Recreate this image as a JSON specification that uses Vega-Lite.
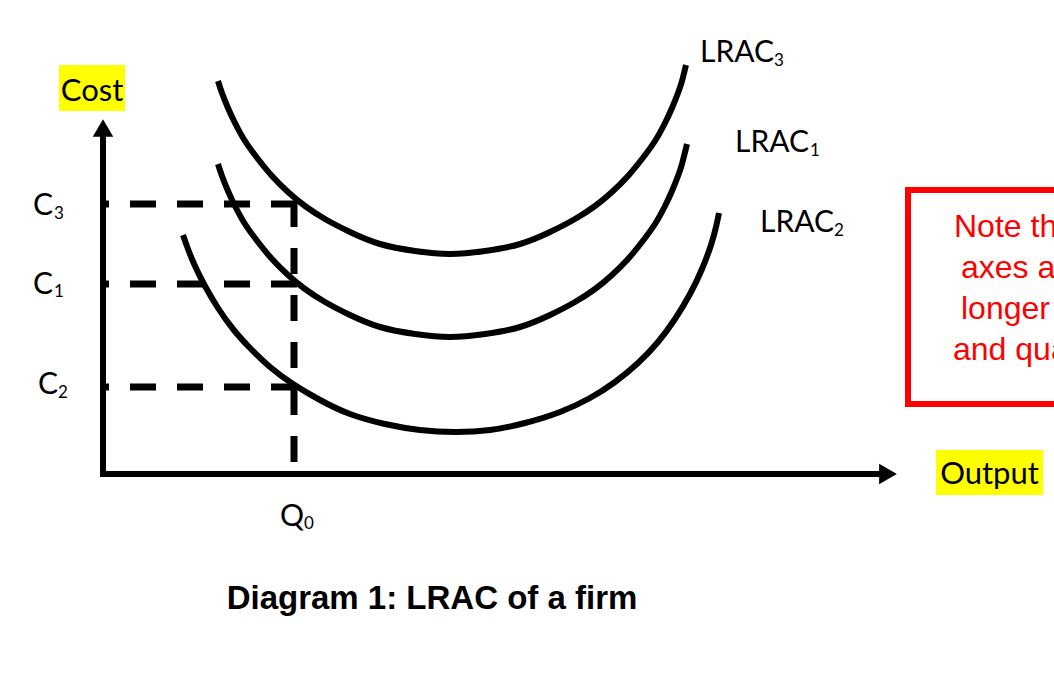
{
  "$schema": "https://vega.github.io/schema/vega-lite/v6.json",
  "width": 1054,
  "height": 694,
  "autosize": {"type": "fit", "contains": "padding"},
  "padding": 0,
  "background": "white",
  "config": {"view": {"stroke": null}},
  "datasets": {
    "boxes": [
      {"name": "Cost", "x": 59, "x2": 125, "y": 65, "y2": 111},
      {"name": "Output", "x": 936, "x2": 1043, "y": 450, "y2": 495}
    ],
    "note": [
      {"x": 908, "x2": 1090, "y": 190, "y2": 404}
    ],
    "axes": [
      {"x": 103, "x2": 103, "y": 477, "y2": 130},
      {"x": 100, "x2": 884, "y": 474, "y2": 474}
    ],
    "arrows": [
      {"dir": "up", "x": 103, "y": 128},
      {"dir": "right", "x": 888, "y": 474}
    ],
    "dashes": [
      {"x": 297, "x2": 101, "y": 204, "y2": 204},
      {"x": 297, "x2": 101, "y": 284, "y2": 284},
      {"x": 297, "x2": 101, "y": 387, "y2": 387},
      {"x": 294, "x2": 294, "y": 201, "y2": 467}
    ],
    "curves": [
      {"curve": "LRAC3", "x": 218, "y": 81},
      {"curve": "LRAC3", "x": 222, "y": 93},
      {"curve": "LRAC3", "x": 228, "y": 108},
      {"curve": "LRAC3", "x": 235, "y": 123},
      {"curve": "LRAC3", "x": 245, "y": 141},
      {"curve": "LRAC3", "x": 258, "y": 159},
      {"curve": "LRAC3", "x": 272, "y": 176},
      {"curve": "LRAC3", "x": 288, "y": 192},
      {"curve": "LRAC3", "x": 305, "y": 206},
      {"curve": "LRAC3", "x": 325, "y": 219},
      {"curve": "LRAC3", "x": 350, "y": 232},
      {"curve": "LRAC3", "x": 380, "y": 244},
      {"curve": "LRAC3", "x": 415, "y": 251},
      {"curve": "LRAC3", "x": 450, "y": 254},
      {"curve": "LRAC3", "x": 485, "y": 251},
      {"curve": "LRAC3", "x": 520, "y": 244},
      {"curve": "LRAC3", "x": 550, "y": 232},
      {"curve": "LRAC3", "x": 575, "y": 219},
      {"curve": "LRAC3", "x": 595, "y": 206},
      {"curve": "LRAC3", "x": 612, "y": 192},
      {"curve": "LRAC3", "x": 628, "y": 176},
      {"curve": "LRAC3", "x": 642, "y": 159},
      {"curve": "LRAC3", "x": 655, "y": 141},
      {"curve": "LRAC3", "x": 665, "y": 123},
      {"curve": "LRAC3", "x": 672, "y": 108},
      {"curve": "LRAC3", "x": 678, "y": 93},
      {"curve": "LRAC3", "x": 682, "y": 81},
      {"curve": "LRAC3", "x": 686, "y": 65},
      {"curve": "LRAC1", "x": 218, "y": 164},
      {"curve": "LRAC1", "x": 222, "y": 176},
      {"curve": "LRAC1", "x": 228, "y": 191},
      {"curve": "LRAC1", "x": 235, "y": 206},
      {"curve": "LRAC1", "x": 245, "y": 224},
      {"curve": "LRAC1", "x": 258, "y": 242},
      {"curve": "LRAC1", "x": 272, "y": 259},
      {"curve": "LRAC1", "x": 288, "y": 275},
      {"curve": "LRAC1", "x": 305, "y": 289},
      {"curve": "LRAC1", "x": 325, "y": 302},
      {"curve": "LRAC1", "x": 350, "y": 315},
      {"curve": "LRAC1", "x": 380, "y": 327},
      {"curve": "LRAC1", "x": 415, "y": 334},
      {"curve": "LRAC1", "x": 450, "y": 337},
      {"curve": "LRAC1", "x": 485, "y": 334},
      {"curve": "LRAC1", "x": 520, "y": 327},
      {"curve": "LRAC1", "x": 550, "y": 315},
      {"curve": "LRAC1", "x": 575, "y": 302},
      {"curve": "LRAC1", "x": 595, "y": 289},
      {"curve": "LRAC1", "x": 612, "y": 275},
      {"curve": "LRAC1", "x": 628, "y": 259},
      {"curve": "LRAC1", "x": 642, "y": 242},
      {"curve": "LRAC1", "x": 655, "y": 224},
      {"curve": "LRAC1", "x": 665, "y": 206},
      {"curve": "LRAC1", "x": 672, "y": 191},
      {"curve": "LRAC1", "x": 678, "y": 176},
      {"curve": "LRAC1", "x": 682, "y": 164},
      {"curve": "LRAC1", "x": 687, "y": 144},
      {"curve": "LRAC2", "x": 183, "y": 235},
      {"curve": "LRAC2", "x": 188, "y": 249},
      {"curve": "LRAC2", "x": 195, "y": 266},
      {"curve": "LRAC2", "x": 205, "y": 286},
      {"curve": "LRAC2", "x": 218, "y": 308},
      {"curve": "LRAC2", "x": 233, "y": 329},
      {"curve": "LRAC2", "x": 250, "y": 348},
      {"curve": "LRAC2", "x": 270, "y": 367},
      {"curve": "LRAC2", "x": 293, "y": 384},
      {"curve": "LRAC2", "x": 320, "y": 400},
      {"curve": "LRAC2", "x": 350, "y": 414},
      {"curve": "LRAC2", "x": 385, "y": 424},
      {"curve": "LRAC2", "x": 420, "y": 430},
      {"curve": "LRAC2", "x": 455, "y": 432},
      {"curve": "LRAC2", "x": 490, "y": 430},
      {"curve": "LRAC2", "x": 525, "y": 423},
      {"curve": "LRAC2", "x": 560, "y": 412},
      {"curve": "LRAC2", "x": 590, "y": 398},
      {"curve": "LRAC2", "x": 615, "y": 382},
      {"curve": "LRAC2", "x": 638, "y": 363},
      {"curve": "LRAC2", "x": 658, "y": 342},
      {"curve": "LRAC2", "x": 675, "y": 319},
      {"curve": "LRAC2", "x": 690, "y": 294},
      {"curve": "LRAC2", "x": 702, "y": 269},
      {"curve": "LRAC2", "x": 711, "y": 245},
      {"curve": "LRAC2", "x": 716, "y": 227},
      {"curve": "LRAC2", "x": 719, "y": 213}
    ],
    "labels": [
      {"text": "C", "x": 33, "y": 215},
      {"text": "C", "x": 33, "y": 294},
      {"text": "C", "x": 38, "y": 394},
      {"text": "Q", "x": 280, "y": 526},
      {"text": "LRAC", "x": 700, "y": 62},
      {"text": "LRAC", "x": 735, "y": 152},
      {"text": "LRAC", "x": 760, "y": 232}
    ],
    "subs": [
      {"text": "3", "x": 54, "y": 219},
      {"text": "1", "x": 54, "y": 297},
      {"text": "2", "x": 58, "y": 398},
      {"text": "0", "x": 304, "y": 529},
      {"text": "3", "x": 774, "y": 66},
      {"text": "1", "x": 810, "y": 156},
      {"text": "2", "x": 834, "y": 236}
    ],
    "axisTitles": [
      {"text": "Cost", "x": 92, "y": 101},
      {"text": "Output", "x": 989.5, "y": 484}
    ],
    "noteText": [
      {"text": "Note that the", "x": 954, "y": 237},
      {"text": "axes are no", "x": 961, "y": 278},
      {"text": "longer price", "x": 961, "y": 319},
      {"text": "and quantity", "x": 953, "y": 360}
    ],
    "title": [
      {"text": "Diagram 1: LRAC of a firm", "x": 432, "y": 609}
    ]
  },
  "encoding": {
    "x": {"field": "x", "type": "quantitative", "scale": {"domain": [0, 1054], "nice": false, "zero": false}, "axis": null},
    "y": {"field": "y", "type": "quantitative", "scale": {"domain": [0, 694], "nice": false, "zero": false, "reverse": true}, "axis": null}
  },
  "layer": [
    {
      "data": {"name": "boxes"},
      "mark": {"type": "rect", "fill": "#ffff00", "stroke": null},
      "encoding": {"x2": {"field": "x2"}, "y2": {"field": "y2"}}
    },
    {
      "data": {"name": "note"},
      "mark": {"type": "rect", "fill": null, "fillOpacity": 0, "stroke": "#ff0000", "strokeWidth": 6, "clip": true},
      "encoding": {"x2": {"field": "x2"}, "y2": {"field": "y2"}}
    },
    {
      "data": {"name": "axes"},
      "mark": {"type": "rule", "color": "black", "strokeWidth": 6, "strokeCap": "butt"},
      "encoding": {"x2": {"field": "x2"}, "y2": {"field": "y2"}}
    },
    {
      "data": {"name": "arrows"},
      "mark": {"type": "point", "filled": true, "color": "black", "opacity": 1, "size": 420},
      "encoding": {
        "shape": {"field": "dir", "type": "nominal", "scale": {"domain": ["up", "right"], "range": ["triangle-up", "triangle-right"]}, "legend": null}
      }
    },
    {
      "data": {"name": "dashes"},
      "mark": {"type": "rule", "color": "black", "strokeWidth": 7, "strokeDash": [26, 21], "strokeCap": "butt"},
      "encoding": {"x2": {"field": "x2"}, "y2": {"field": "y2"}}
    },
    {
      "data": {"name": "curves"},
      "mark": {"type": "line", "color": "black", "strokeWidth": 6, "interpolate": "natural", "strokeCap": "butt"},
      "encoding": {"detail": {"field": "curve", "type": "nominal"}}
    },
    {
      "data": {"name": "labels"},
      "mark": {"type": "text", "font": "Lato", "fontSize": 30, "align": "left", "baseline": "alphabetic", "color": "black"},
      "encoding": {"text": {"field": "text"}}
    },
    {
      "data": {"name": "subs"},
      "mark": {"type": "text", "font": "Lato", "fontSize": 17, "align": "left", "baseline": "alphabetic", "color": "black"},
      "encoding": {"text": {"field": "text"}}
    },
    {
      "data": {"name": "axisTitles"},
      "mark": {"type": "text", "font": "Lato", "fontSize": 31, "align": "center", "baseline": "alphabetic", "color": "black"},
      "encoding": {"text": {"field": "text"}}
    },
    {
      "data": {"name": "noteText"},
      "mark": {"type": "text", "font": "Liberation Sans", "fontSize": 32, "align": "left", "baseline": "alphabetic", "color": "#ff0000", "clip": true},
      "encoding": {"text": {"field": "text"}}
    },
    {
      "data": {"name": "title"},
      "mark": {"type": "text", "font": "Liberation Sans", "fontWeight": "bold", "fontSize": 33, "align": "center", "baseline": "alphabetic", "color": "black"},
      "encoding": {"text": {"field": "text"}}
    }
  ]
}
